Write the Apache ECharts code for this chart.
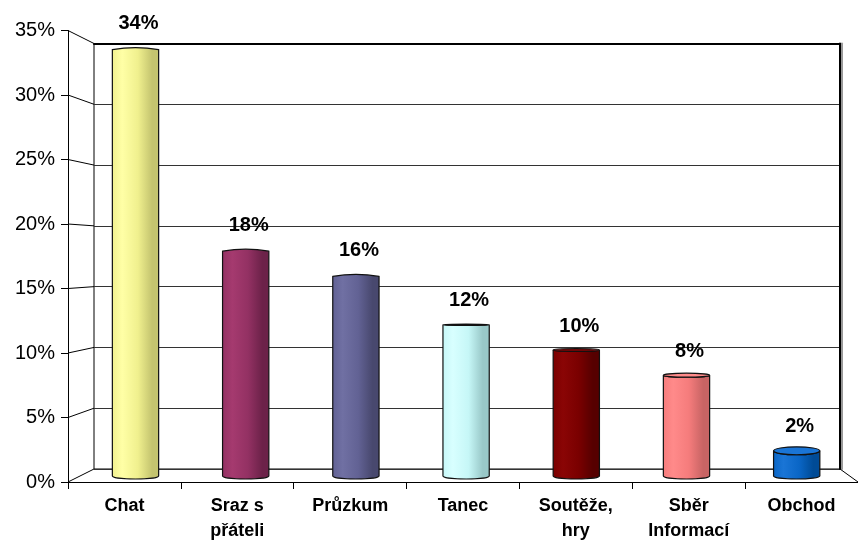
<!DOCTYPE html>
<html>
<head>
<meta charset="utf-8">
<script src="https://cdn.jsdelivr.net/npm/echarts@6/dist/echarts.min.js"></script>
<style>
  html, body { margin: 0; padding: 0; background: #fff; }
  #chart { width: 858px; height: 544px; }
</style>
</head>
<body>
<div id="chart"></div>
<script>
// Activity shares, in percent
const categories = ['Chat', 'Sraz s\npřáteli', 'Průzkum', 'Tanec', 'Soutěže,\nhry', 'Sběr\nInformací', 'Obchod'];
const shares = [34, 18, 16, 12, 10, 8, 2];
const yMin = 0;
const yMax = 35;
const yStep = 5;

// Cylinder colours: [light, base, dark]
const barColors = [
  ['#ffffa6', '#f0f08e', '#c4c46f'],
  ['#a53a6f', '#933163', '#6c2249'],
  ['#7070a3', '#626294', '#48486e'],
  ['#d8ffff', '#c6f7f7', '#99c8c8'],
  ['#8a0505', '#7a0000', '#560000'],
  ['#ff8a8a', '#f57c7c', '#c86464'],
  ['#1a75d6', '#0a66c6', '#004b96']
];

const FONT = '"Liberation Sans", Arial, sans-serif';

function cylinderFill(c) {
  return new echarts.graphic.LinearGradient(0, 0, 1, 0, [
    { offset: 0, color: c[1] },
    { offset: 0.22, color: c[0] },
    { offset: 0.55, color: c[1] },
    { offset: 0.85, color: c[2] },
    { offset: 1, color: c[2] }
  ]);
}

function renderCylinder(params, api) {
  const i = api.value(0);
  const v = api.value(1);
  const topPt = api.coord([i, v]);
  const basePt = api.coord([i, 0]);
  const w = api.size([1, 0])[0] * 0.42;
  const cx = topPt[0];
  const l = cx - w / 2, r = cx + w / 2;
  const rx = w / 2;
  const top = topPt[1];
  const bottom = basePt[1];
  const ryB = 3;
  // short columns sit below eye level, so their top face shows
  const ryT = Math.max(0, Math.min(4, (top - 300) / 38));
  const c = barColors[i];
  const children = [];
  const bodyPath = ryT > 0
    ? `M${l},${top} A${rx},${ryT} 0 0 0 ${r},${top} L${r},${bottom} A${rx},${ryB} 0 0 1 ${l},${bottom} Z`
    : `M${l},${top + 2} Q${cx},${top - 2} ${r},${top + 2} L${r},${bottom} A${rx},${ryB} 0 0 1 ${l},${bottom} Z`;
  children.push({
    type: 'path',
    shape: { pathData: bodyPath },
    style: { fill: cylinderFill(c), stroke: '#111', lineWidth: 1.2 }
  });
  if (ryT > 0) {
    children.push({
      type: 'ellipse',
      shape: { cx: cx, cy: top, rx: rx, ry: ryT },
      style: { fill: c[0], stroke: '#111', lineWidth: 1.2 }
    });
  }
  children.push({
    type: 'text',
    style: {
      text: v + '%',
      x: cx + 3,
      y: top - 14,
      align: 'center',
      verticalAlign: 'bottom',
      fill: '#000',
      font: 'bold 20px ' + FONT
    }
  });
  return { type: 'group', children: children };
}

const chart = echarts.init(document.getElementById('chart'), null, { renderer: 'canvas' });

const option = {
  animation: false,
  backgroundColor: '#fff',
  grid: [
    // front edge of the floor and the value axis
    { left: 68, top: 30.5, width: 798, height: 453, show: false },
    // back wall
    { left: 94, top: 43.5, width: 746, height: 425.5, show: true, borderColor: '#000', borderWidth: 1, backgroundColor: 'transparent' },
    // columns, placed at mid depth
    { left: 80.4, top: 35, width: 771.4, height: 441, show: false }
  ],
  xAxis: [
    {
      gridIndex: 0, type: 'category', data: categories, boundaryGap: true,
      axisLine: { show: true, onZero: false, lineStyle: { color: '#000', width: 1 } },
      axisTick: { show: true, interval: 0, length: 7, lineStyle: { color: '#000' } },
      axisLabel: {
        interval: 0, margin: 12, color: '#000', fontFamily: FONT, fontWeight: 'bold',
        fontSize: 18, lineHeight: 25
      }
    },
    {
      gridIndex: 1, type: 'category', data: categories, position: 'top',
      axisLine: { show: true, onZero: false, lineStyle: { color: '#000', width: 2 } },
      axisTick: { show: false }, axisLabel: { show: false }
    },
    {
      gridIndex: 2, type: 'category', data: categories,
      axisLine: { show: false }, axisTick: { show: false }, axisLabel: { show: false }
    }
  ],
  yAxis: [
    {
      gridIndex: 0, type: 'value', min: yMin, max: yMax, interval: yStep,
      axisLine: { show: true, onZero: false, lineStyle: { color: '#000', width: 1 } },
      axisTick: { show: true, length: 7, lineStyle: { color: '#000' } },
      axisLabel: { formatter: '{value}%', margin: 13, color: '#000', fontFamily: FONT, fontSize: 20 },
      splitLine: { show: false }
    },
    {
      gridIndex: 1, type: 'value', min: yMin, max: yMax, interval: yStep, position: 'right',
      axisLine: { show: true, onZero: false, lineStyle: { color: '#000', width: 2, shadowColor: '#999', shadowOffsetX: 2 } },
      axisTick: { show: false }, axisLabel: { show: false },
      splitLine: { show: true, lineStyle: { color: '#333', width: 1 } }
    },
    {
      gridIndex: 2, type: 'value', min: yMin, max: yMax, interval: yStep,
      show: false
    }
  ],
  series: [
    {
      type: 'custom',
      xAxisIndex: 2,
      yAxisIndex: 2,
      renderItem: renderCylinder,
      data: shares.map((v, i) => [i, v]),
      z: 10
    }
  ]
};

chart.setOption(option);

// Depth edges joining the value axis to the back wall, plus the right floor edge
const frontRect = chart.getModel().getComponent('grid', 0).coordinateSystem.getRect();
const backRect = chart.getModel().getComponent('grid', 1).coordinateSystem.getRect();
const edges = [];
for (let v = yMin; v <= yMax; v += yStep) {
  const yf = chart.convertToPixel({ yAxisIndex: 0 }, v);
  const yb = chart.convertToPixel({ yAxisIndex: 1 }, v);
  edges.push({
    type: 'line', z: 1,
    shape: { x1: frontRect.x, y1: yf, x2: backRect.x, y2: yb },
    style: { stroke: '#000', lineWidth: 1 }
  });
}
const yf0 = chart.convertToPixel({ yAxisIndex: 0 }, yMin);
const yb0 = chart.convertToPixel({ yAxisIndex: 1 }, yMin);
edges.push({
  type: 'line', z: 1,
  shape: { x1: backRect.x + backRect.width, y1: yb0, x2: frontRect.x + frontRect.width, y2: yf0 },
  style: { stroke: '#000', lineWidth: 1 }
});
chart.setOption({ graphic: edges });
</script>
</body>
</html>
